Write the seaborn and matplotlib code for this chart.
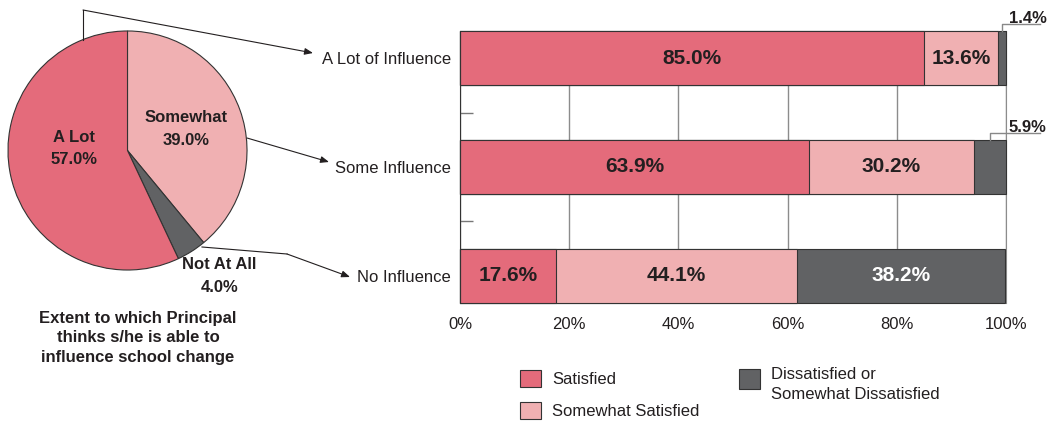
import pandas as pd
import matplotlib.pyplot as plt
import seaborn as sns
from matplotlib.patches import Patch, Rectangle
from matplotlib.legend_handler import HandlerPatch

plt.rcParams['font.family'] = ['Liberation Sans', 'DejaVu Sans']

# pie: extent to which principal can influence change
pie_labels = ['Somewhat', 'Not At All', 'A Lot']
pie_values = [39.0, 4.0, 57.0]

# bars: satisfaction by level of influence
influence = ['A Lot of Influence', 'Some Influence', 'No Influence']
satisfied = [85.0, 63.9, 17.6]
somewhat_sat = [13.6, 30.2, 44.1]
dissatisfied = [1.4, 5.9, 38.2]
series_names = ['Satisfied', 'Somewhat Satisfied', 'Dissatisfied or\nSomewhat Dissatisfied']
xticks = [0, 20, 40, 60, 80, 100]

RED = '#e46b7b'
PINK = '#f0b0b2'
GRAY = '#616264'
EDGE = '#333333'
INK = '#231f20'

W, H = 1049, 421
fig = plt.figure(figsize=(W / 100, H / 100), dpi=100)

# ---- pie
pie_ax = fig.add_axes([-21.9 / W, 121.1 / H, 298.8 / W, 298.8 / H])
pie_ax.pie(pie_values, colors=[PINK, GRAY, RED], startangle=90, counterclock=False,
           wedgeprops=dict(edgecolor=EDGE, linewidth=0.8))
pie_ax.set_xlim(-1.25, 1.25)
pie_ax.set_ylim(-1.25, 1.25)
label_pos = {'Somewhat': (0.49, 0.18), 'Not At All': (0.77, -1.05), 'A Lot': (-0.45, 0.02)}
for name, val in zip(pie_labels, pie_values):
    pie_ax.text(*label_pos[name], f'{name}\n{val:.1f}%', ha='center', va='center',
                fontsize=12, fontweight='bold', color=INK, linespacing=1.6)

fig.text(138 / W, 1 - 338 / H, 'Extent to which Principal\nthinks s/he is able to\ninfluence school change',
         ha='center', va='center', fontsize=12, fontweight='bold', color=INK, linespacing=1.4)

# ---- stacked bars
df = pd.DataFrame({'influence': influence, 'Satisfied': satisfied,
                   'Somewhat': somewhat_sat, 'Dissatisfied': dissatisfied})
df['upto_somewhat'] = df['Satisfied'] + df['Somewhat']
df['total'] = df['upto_somewhat'] + df['Dissatisfied']

bar_ax = fig.add_axes([460 / W, 1 - 303 / H, 546 / W, 272 / H])
for col, c in [('total', GRAY), ('upto_somewhat', PINK), ('Satisfied', RED)]:
    sns.barplot(data=df, x=col, y='influence', orient='h', color=c, saturation=1,
                width=0.5, edgecolor=EDGE, linewidth=0.8, errorbar=None, ax=bar_ax)
for p in bar_ax.patches:
    p.set_clip_on(False)

bar_ax.set_xlim(0, 100)
bar_ax.set_ylim(2.25, -0.25)
bar_ax.set_xlabel('')
bar_ax.set_ylabel('')
bar_ax.set_xticks(xticks)
bar_ax.set_xticklabels([f'{v}%' for v in xticks], fontsize=12, color=INK)
bar_ax.tick_params(axis='x', length=0, pad=10)
bar_ax.tick_params(axis='y', which='major', length=0, pad=6.5, labelsize=12, labelcolor=INK)
bar_ax.set_yticks([0.5, 1.5], minor=True)
bar_ax.tick_params(axis='y', which='minor', direction='in', length=9, width=1, color='#777777')
bar_ax.set_axisbelow(True)
bar_ax.grid(axis='x', color='#8c8c8c', lw=1)
bar_ax.spines['top'].set_visible(False)
bar_ax.spines['bottom'].set_visible(False)
bar_ax.spines['right'].set_color('#8c8c8c')
bar_ax.spines['right'].set_zorder(0.6)
bar_ax.spines['left'].set_color(EDGE)

for i in range(len(influence)):
    vals = [satisfied[i], somewhat_sat[i], dissatisfied[i]]
    left = 0
    for j, v in enumerate(vals):
        xc = left + v / 2
        if v >= 10:
            bar_ax.text(xc, i, f'{v:.1f}%', ha='center', va='center', fontsize=15,
                        fontweight='bold', color='white' if j == 2 else INK)
        else:
            ytop = i - 0.25
            bar_ax.plot([xc, xc, 106.2], [ytop, ytop - 0.06, ytop - 0.06],
                        color='#888888', lw=1, clip_on=False)
            bar_ax.text(104, ytop - 0.075, f'{v:.1f}%', ha='center', va='baseline',
                        fontsize=12, fontweight='bold', color=INK)
        left += v


# ---- legends
class TopBox(HandlerPatch):
    def create_artists(self, legend, orig_handle, xdescent, ydescent, width, height, fontsize, trans):
        box = 1.2 * fontsize
        r = Rectangle((-xdescent, -ydescent + height - box), width, box,
                      facecolor=orig_handle.get_facecolor(), edgecolor=orig_handle.get_edgecolor(),
                      linewidth=orig_handle.get_linewidth(), transform=trans)
        return [r]


handles = [Patch(facecolor=c, edgecolor=EDGE, linewidth=0.8) for c in (RED, PINK, GRAY)]
leg_kw = dict(loc='upper left', frameon=False, fontsize=12, handlelength=1.26,
              handletextpad=0.66, borderpad=0, borderaxespad=0, labelcolor=INK)
fig.legend(handles[:2], series_names[:2], bbox_to_anchor=(520 / W, 1 - 370 / H),
           handleheight=1.2, labelspacing=0.9, **leg_kw)
leg2 = fig.legend([handles[2]], [series_names[2]], bbox_to_anchor=(739 / W, 1 - 367 / H),
                  handleheight=2.7, handler_map={Patch: TopBox()}, **leg_kw)
leg2.get_texts()[0].set_linespacing(1.45)

# ---- connectors from pie to bar rows (pixel overlay)
ov = fig.add_axes([0, 0, 1, 1], zorder=5)
ov.set_xlim(0, W)
ov.set_ylim(H, 0)
ov.axis('off')
arrow = dict(arrowstyle='-|>,head_length=0.5,head_width=0.2', color=INK, lw=0.8,
             shrinkA=0, shrinkB=0)
ov.plot([83, 83], [40, 10], color=INK, lw=0.8)
ov.annotate('', xy=(313, 53), xytext=(83, 10), arrowprops=arrow)
ov.annotate('', xy=(329, 162), xytext=(247, 138), arrowprops=arrow)
ov.plot([202, 287], [247, 254], color=INK, lw=0.8)
ov.annotate('', xy=(350, 277), xytext=(287, 254), arrowprops=arrow)

fig.savefig('out.png', dpi=100)
